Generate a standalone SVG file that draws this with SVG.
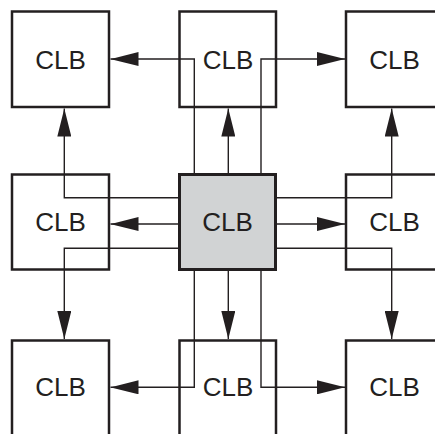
<svg xmlns="http://www.w3.org/2000/svg" width="435" height="434" viewBox="0 0 435 434">
<style>
.box{fill:#ffffff;stroke:#231f20;stroke-width:2.5}
.center{fill:#d1d3d4;stroke:#231f20;stroke-width:3}
.lbl{font-family:"Liberation Sans",Arial,sans-serif;font-size:26px;fill:#231f20;text-anchor:middle}
.wire{fill:none;stroke:#231f20;stroke-width:1.4;marker-end:url(#ah)}
</style>
<defs>
<marker id="ah" markerUnits="userSpaceOnUse" markerWidth="28" markerHeight="14" refX="28" refY="7" orient="auto" viewBox="0 0 28 14">
<path d="M0,0 L28,7 L0,14 z" fill="#231f20"/>
</marker>
</defs>
<rect width="435" height="434" fill="#ffffff"/>
<g id="clb-tl"><rect class="box" x="12" y="11.5" width="97" height="95.5"/><text class="lbl" x="60.5" y="68.5">CLB</text></g>
<g id="clb-tm"><rect class="box" x="179.5" y="11.5" width="96.5" height="95.5"/><text class="lbl" x="228" y="68.5">CLB</text></g>
<g id="clb-tr"><rect class="box" x="346" y="11.5" width="97" height="95.5"/><text class="lbl" x="394.5" y="68.5">CLB</text></g>
<g id="clb-ml"><rect class="box" x="12" y="174.5" width="97" height="95"/><text class="lbl" x="60.5" y="231">CLB</text></g>
<g id="clb-mr"><rect class="box" x="346" y="174.5" width="97" height="95"/><text class="lbl" x="394.5" y="231">CLB</text></g>
<g id="clb-bl"><rect class="box" x="12" y="340.5" width="97" height="95"/><text class="lbl" x="60.5" y="396">CLB</text></g>
<g id="clb-bm"><rect class="box" x="179.5" y="340.5" width="96.5" height="95"/><text class="lbl" x="228" y="396">CLB</text></g>
<g id="clb-br"><rect class="box" x="346" y="340.5" width="97" height="95"/><text class="lbl" x="394.5" y="396">CLB</text></g>
<g id="clb-center"><rect class="center" x="179.5" y="174.5" width="96" height="95"/><text class="lbl" x="227.5" y="231">CLB</text></g>
<g id="connectors">
<path class="wire" d="M228.3,173 V108.5"/>
<path class="wire" d="M261,173 V59 H345"/>
<path class="wire" d="M194.3,173 V59 H110.5"/>
<path class="wire" d="M178,197.7 H64.3 V108.5"/>
<path class="wire" d="M277,197.7 H391.7 V108.5"/>
<path class="wire" d="M178,224 H110.5"/>
<path class="wire" d="M277,224 H345"/>
<path class="wire" d="M178,248.3 H64.3 V339"/>
<path class="wire" d="M277,248.3 H391.7 V339"/>
<path class="wire" d="M228.3,271 V339"/>
<path class="wire" d="M194.3,271 V387.3 H110.5"/>
<path class="wire" d="M261,271 V387.3 H345"/>
</g>
</svg>
